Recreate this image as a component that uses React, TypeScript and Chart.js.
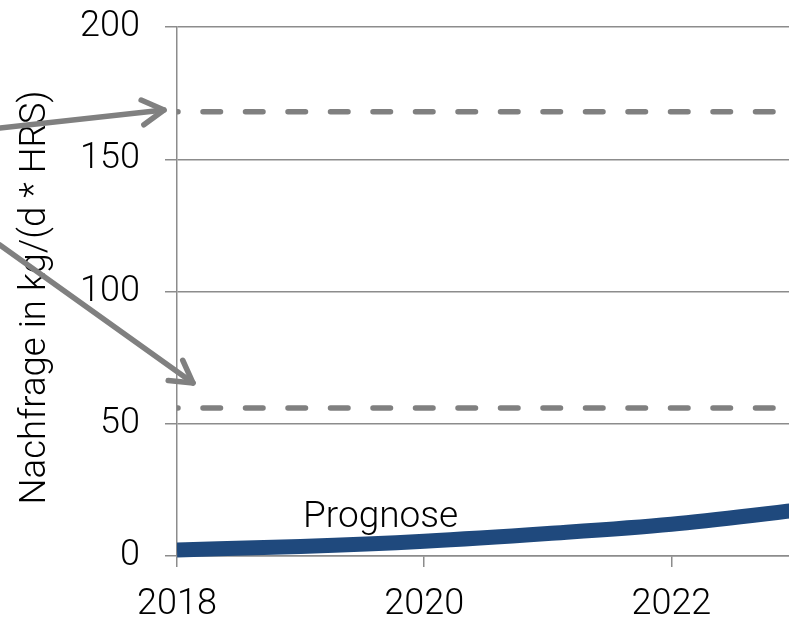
import React, { useEffect, useRef } from "react";
import { Chart, registerables } from "chart.js";

Chart.register(...registerables);

// ---- data ----
const years = [2018, 2019, 2020, 2021, 2022, 2023];
const demand = [2.3, 3.6, 5.6, 8.5, 12.0, 17.2];
const levelYears = [2018, 2023];
const upperLevel = [168, 168];
const lowerLevel = [56, 56];
const xTickValues = [2018, 2020, 2022];
const yAxisTitle = "Nachfrage in kg/(d * HRS)";
const seriesLabel = "Prognose";
const seriesLabelAt = { x: 2019.02, y: 11 };
const arrowFrom = [
  { x: 2016.567, y: 161.8 },
  { x: 2016.567, y: 117.6 },
];
const arrowTo = [
  { x: 2017.895, y: 168.6 },
  { x: 2018.13, y: 65.4 },
];

const GRID = "#8c8c8c";
const ARROW = "#808080";
const BLUE = "#1f497d";
const FONT = "Roboto";

const annotationPlugin = {
  id: "annotations",
  afterDraw(chart: any) {
    const { ctx, scales, chartArea } = chart;
    const xs = scales.x;
    const ys = scales.y;
    ctx.save();
    // y-axis title
    ctx.save();
    ctx.fillStyle = "#000";
    ctx.font = `300 36.6px ${FONT}`;
    ctx.textAlign = "center";
    ctx.textBaseline = "alphabetic";
    ctx.translate(45, (chartArea.top + chartArea.bottom) / 2 + 6);
    ctx.rotate(-Math.PI / 2);
    ctx.fillText(yAxisTitle, 0, 0);
    ctx.restore();
    // arrows
    ctx.strokeStyle = ARROW;
    ctx.lineWidth = 5.5;
    ctx.lineCap = "round";
    ctx.lineJoin = "round";
    for (let i = 0; i < arrowFrom.length; i++) {
      const x0 = xs.getPixelForValue(arrowFrom[i].x);
      const y0 = ys.getPixelForValue(arrowFrom[i].y);
      const x1 = xs.getPixelForValue(arrowTo[i].x);
      const y1 = ys.getPixelForValue(arrowTo[i].y);
      const ang = Math.atan2(y1 - y0, x1 - x0);
      const len = 25;
      const spread = Math.PI / 6;
      ctx.beginPath();
      ctx.moveTo(x0, y0);
      ctx.lineTo(x1, y1);
      ctx.stroke();
      ctx.beginPath();
      ctx.moveTo(x1 - len * Math.cos(ang - spread), y1 - len * Math.sin(ang - spread));
      ctx.lineTo(x1, y1);
      ctx.lineTo(x1 - len * Math.cos(ang + spread), y1 - len * Math.sin(ang + spread));
      ctx.stroke();
    }
    // series label
    ctx.fillStyle = "#000";
    ctx.font = `300 37px ${FONT}`;
    ctx.textAlign = "left";
    ctx.textBaseline = "alphabetic";
    ctx.fillText(
      seriesLabel,
      xs.getPixelForValue(seriesLabelAt.x),
      ys.getPixelForValue(seriesLabelAt.y)
    );
    ctx.restore();
  },
};

export default function App() {
  const ref = useRef<HTMLCanvasElement | null>(null);

  useEffect(() => {
    if (!ref.current) return;
    const dashed = (vals: number[]) => ({
      data: levelYears.map((x, i) => ({ x, y: vals[i] })),
      borderColor: ARROW,
      borderWidth: 5.5,
      borderDash: [17.5, 25],
      borderDashOffset: 16.5,
      borderCapStyle: "round" as const,
      pointRadius: 0,
      fill: false,
      clip: { left: 0, right: 0, top: false, bottom: false } as any,
    });
    const chart = new Chart(ref.current, {
      type: "line",
      data: {
        datasets: [
          dashed(upperLevel),
          dashed(lowerLevel),
          {
            data: years.map((x, i) => ({ x, y: demand[i] })),
            borderColor: BLUE,
            borderWidth: 15,
            cubicInterpolationMode: "monotone",
            borderCapStyle: "butt",
            pointRadius: 0,
            fill: false,
            clip: { left: 0, right: 0, top: false, bottom: false } as any,
          },
        ],
      },
      options: {
        responsive: false,
        animation: false,
        events: [],
        layout: { padding: { top: 27, left: 0, right: 0, bottom: 0 } },
        plugins: {
          legend: { display: false },
          tooltip: { enabled: false },
          title: { display: false },
        },
        scales: {
          x: {
            type: "linear",
            min: 2018,
            max: 2023,
            afterBuildTicks: (s: any) => {
              s.ticks = xTickValues.map((v) => ({ value: v }));
            },
            ticks: {
              includeBounds: false,
              stepSize: 2,
              padding: 16,
              color: "#000",
              maxRotation: 0,
              font: { family: FONT, size: 36, weight: 300 as any },
              callback: (v: any) => String(v),
            },
            grid: {
              drawOnChartArea: false,
              drawTicks: true,
              tickLength: 11,
              color: GRID,
              lineWidth: 1.5,
            },
            border: { display: true, color: GRID, width: 1.5 },
            afterFit: (s: any) => {
              s.height = 64;
              s.paddingLeft = 0;
              s.paddingRight = 0;
            },
          },
          y: {
            type: "linear",
            min: 0,
            max: 200,
            ticks: {
              stepSize: 50,
              padding: 25,
              color: "#000",
              font: { family: FONT, size: 36, weight: 300 as any },
            },
            grid: {
              color: GRID,
              lineWidth: 1.5,
              tickLength: 12,
              drawTicks: true,
            },
            border: { display: true, color: GRID, width: 1.5 },
            title: { display: false },
            afterFit: (s: any) => {
              s.width = 177;
              s.paddingTop = 0;
              s.paddingBottom = 0;
            },
          },
        },
      },
      plugins: [annotationPlugin],
    });
    return () => chart.destroy();
  }, []);

  return (
    <div
      style={{
        position: "absolute",
        left: 0,
        top: 0,
        width: 789,
        height: 620,
        overflow: "hidden",
        background: "#fff",
      }}
    >
      <canvas ref={ref} width={795} height={620} style={{ display: "block" }} />
    </div>
  );
}
